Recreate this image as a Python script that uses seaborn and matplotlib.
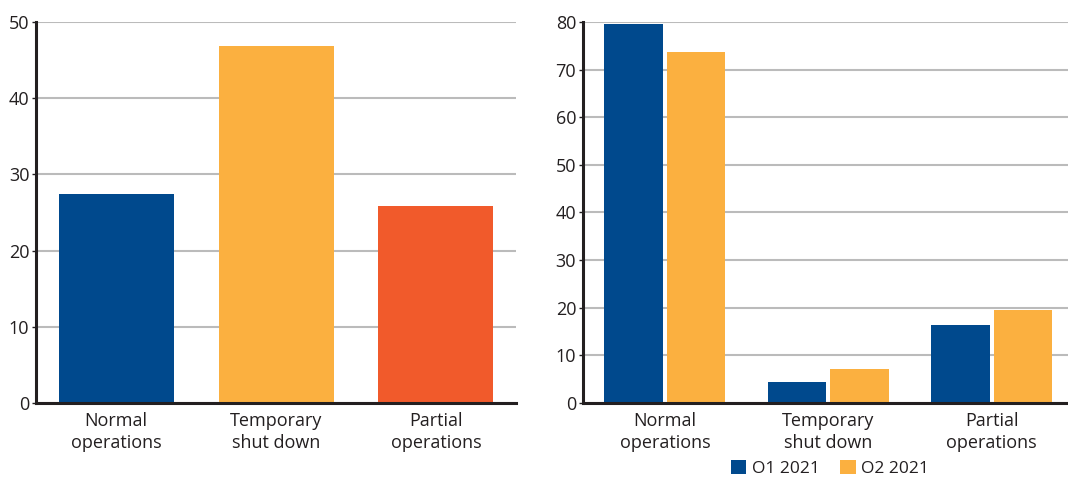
import seaborn as sns
import matplotlib.pyplot as plt
import pandas as pd

# data
categories = ['Normal\noperations', 'Temporary\nshut down', 'Partial\noperations']
share_total = [27.4, 46.9, 25.9]
quarters = ['O1 2021', 'O2 2021']
share_q1 = [79.6, 4.4, 16.4]
share_q2 = [73.6, 7.2, 19.6]

blue = '#00498D'
orange = '#FBB040'
red = '#F15A2B'

sns.set_style('white')
plt.rcParams['font.family'] = ['Open Sans', 'DejaVu Sans']

left_df = pd.DataFrame({'cat': categories, 'val': share_total})
right_df = pd.DataFrame({
    'cat': categories * 2,
    'val': share_q1 + share_q2,
    'quarter': [quarters[0]] * 3 + [quarters[1]] * 3,
})

fig = plt.figure(figsize=(10.68, 4.79), dpi=100)
ax1 = fig.add_axes([0.034, 0.159, 0.449, 0.795])
ax2 = fig.add_axes([0.546, 0.159, 0.459, 0.795])

# left: single series, one colour per bar
sns.barplot(data=left_df, x='cat', y='val', hue='cat', palette=[blue, orange, red],
            width=0.72, saturation=1, legend=False, ax=ax1, zorder=3, linewidth=0)
ax1.set_ylim(0, 50)
ax1.set_yticks(range(0, 51, 10))

# right: two quarters side by side
sns.barplot(data=right_df, x='cat', y='val', hue='quarter', palette=[blue, orange],
            width=0.765, gap=0.06, saturation=1, ax=ax2, zorder=3, linewidth=0)
ax2.set_ylim(0, 80)
ax2.set_yticks(range(0, 81, 10))

for ax in (ax1, ax2):
    ax.set_xlim(-0.5, 2.5)
    ax.set_xlabel('')
    ax.set_ylabel('')
    ax.yaxis.grid(True, color='#BBBBBB', linewidth=1.5, zorder=0)
    ax.set_axisbelow(True)
    for s in ('top', 'right'):
        ax.spines[s].set_visible(False)
    for s in ('left', 'bottom'):
        ax.spines[s].set_color('#231F20')
        ax.spines[s].set_linewidth(2.2)
        ax.spines[s].set_zorder(4)
    ax.tick_params(axis='y', left=True, length=3, width=1, color='#231F20',
                   labelsize=13, labelcolor='#231F20', pad=2)
    ax.tick_params(axis='x', bottom=False, labelsize=13, labelcolor='#231F20', pad=3)
    for t in ax.get_xticklabels():
        t.set_linespacing(1.3)

handles, labels = ax2.get_legend_handles_labels()
ax2.get_legend().remove()
fig.legend(handles, labels, loc='center', bbox_to_anchor=(0.777, 0.022), ncol=2,
           frameon=False, fontsize=12.5, handlelength=0.9, handleheight=0.9,
           handletextpad=0.3, columnspacing=1.2, labelcolor='#231F20')

fig.savefig('out.png', dpi=100)
